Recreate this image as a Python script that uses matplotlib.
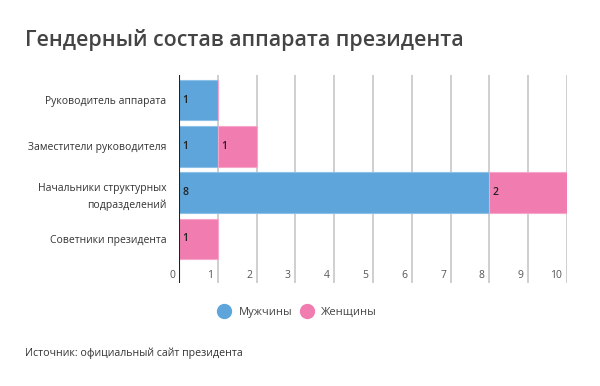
import matplotlib.pyplot as plt
from matplotlib.lines import Line2D

plt.rcParams['font.family'] = ['Open Sans', 'DejaVu Sans']

categories = ['Руководитель аппарата', 'Заместители руководителя',
              'Начальники структурных\nподразделений', 'Советники президента']
men = [1, 1, 8, 0]
women = [0, 1, 2, 1]
series_names = ['Мужчины', 'Женщины']
xticks = list(range(0, 11))

blue = '#5DA5DA'
pink = '#F17CB0'

fig = plt.figure(figsize=(6, 3.86), dpi=100)
ax = fig.add_axes([179/600, 1-283/386, 388/600, 208/386])

ys = list(range(len(categories)))
ax.barh(ys, men, height=0.88, color=blue, edgecolor='#8ec1e8', linewidth=0.8, zorder=3)
ax.barh(ys, women, left=men, height=0.88, color=pink, edgecolor='#f7a6ca', linewidth=0.8, zorder=3)

for y, m, w in zip(ys, men, women):
    if m:
        ax.text(0.08, y, str(m), va='center', ha='left', fontsize=7.5,
                fontweight='semibold', color='#222222', zorder=4)
    if w:
        ax.text(m + 0.08, y, str(w), va='center', ha='left', fontsize=7.5,
                fontweight='semibold', color='#222222', zorder=4)

ax.set_xlim(0, 10)
ax.set_ylim(3.95, -0.54)
for x in xticks[1:]:
    ax.axvline(x, color='#cccccc', lw=1.3, zorder=1)
    ax.text(x - 0.12, 3.78, str(x), ha='right', va='center', fontsize=7.5, color='#555555')
ax.text(-0.1, 3.78, '0', ha='right', va='center', fontsize=7.5, color='#555555')
ax.axvline(0, color='#222222', lw=1.5, zorder=5)

ax.set_xticks([])
ax.set_yticks(ys)
ax.set_yticklabels(categories, fontsize=7.5, color='#333333', ha='right', linespacing=1.6)
ax.tick_params(axis='y', length=0, pad=9)
for s in ax.spines.values():
    s.set_visible(False)

fig.text(25/600, 1-40/386, 'Гендерный состав аппарата президента', fontsize=15.4,
         fontweight='semibold', color='#444444', va='center', ha='left')

# legend
ly = 1 - 311/386
for cx, tx, col, name in [(224, 239, blue, series_names[0]), (307, 321, pink, series_names[1])]:
    fig.add_artist(Line2D([cx/600], [ly], marker='o', ms=10, color=col, lw=0,
                          transform=fig.transFigure))
    fig.text(tx/600, ly, name, fontsize=8, color='#444444', va='center_baseline')

fig.text(25/600, 1-353/386, 'Источник: официальный сайт президента', fontsize=7.7,
         color='#333333', va='center')

fig.savefig('out.png', dpi=100)
